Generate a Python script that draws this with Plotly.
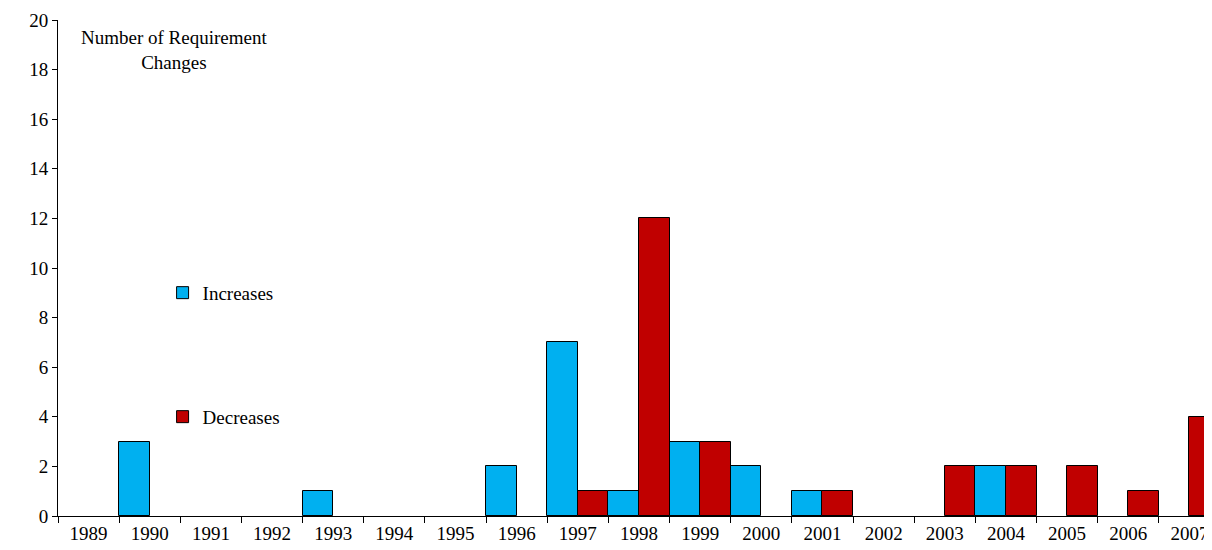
import plotly.graph_objects as go

years = [str(y) for y in range(1989, 2008)]
increases = [None,3,None,None,1,None,None,2,7,1,3,2,1,None,None,2,None,None,None]
decreases = [None,None,None,None,None,None,None,None,1,12,3,None,1,None,2,2,2,1,4]

fig = go.Figure()
fig.add_bar(x=years, y=increases, name="Increases", marker=dict(color="#00B0F0", line=dict(color="black", width=1)), legend="legend", showlegend=True)
fig.add_bar(x=years, y=decreases, name="Decreases", marker=dict(color="#C00000", line=dict(color="black", width=1)), legend="legend2", showlegend=True)

font = dict(family="Liberation Serif, Times New Roman, serif", size=19, color="black")
fig.update_layout(
    width=1212, height=550, barmode="group", bargap=0, bargroupgap=0, showlegend=True,
    plot_bgcolor="white", paper_bgcolor="white", font=font,
    margin=dict(l=50, r=0, t=12, b=42),
    legend=dict(x=0.09, y=0.45, xanchor="left", yanchor="middle", bgcolor="rgba(0,0,0,0)", font=font, visible=True),
    legend2=dict(x=0.09, y=0.2, xanchor="left", yanchor="middle", bgcolor="rgba(0,0,0,0)", font=font, visible=True),
    annotations=[dict(text="Number of Requirement<br>Changes", x=0.1, y=0.99, xref="paper", yref="paper",
                      showarrow=False, xanchor="center", yanchor="top", font=font)],
)
fig.update_xaxes(type="category", tickson="boundaries", ticks="outside", ticklen=6, showline=True, linecolor="black",
                 tickcolor="black", showgrid=False)
fig.update_yaxes(range=[0, 20], dtick=2, ticks="outside", ticklen=5, showline=True, linecolor="black",
                 tickcolor="black", showgrid=False, zeroline=False)
fig.write_html("out.html")
